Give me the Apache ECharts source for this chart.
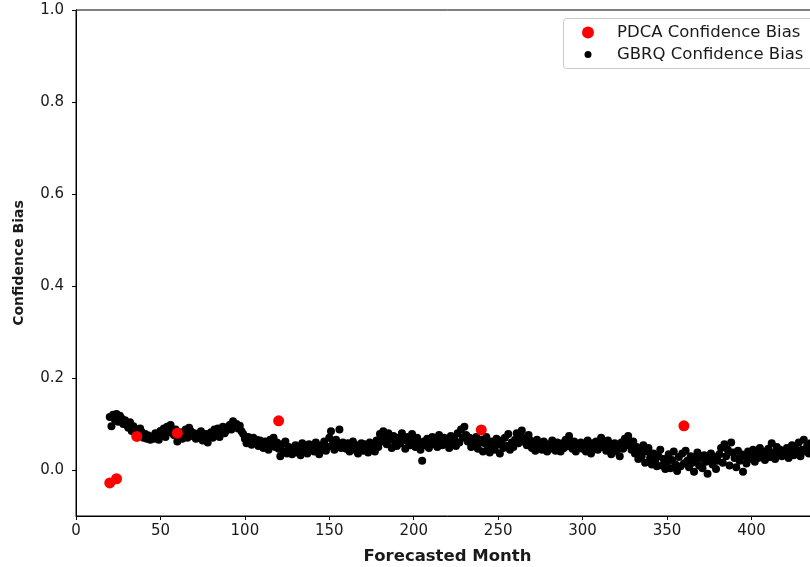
<!DOCTYPE html>
<html>
<head>
<meta charset="utf-8">
<script src="https://cdn.jsdelivr.net/npm/echarts@6/dist/echarts.min.js"></script>
<style>
  html, body { margin: 0; padding: 0; background: #fff; overflow: hidden; }
  #chart { width: 830px; height: 567px; }
</style>
</head>
<body>
<div id="chart"></div>
<script>
// PDCA confidence bias, sampled at a few forecast horizons
const pdcaMonths = [20, 24, 36, 60, 120, 240, 360];
const pdcaBias = [-0.028, -0.019, 0.073, 0.080, 0.107, 0.087, 0.096];

// GBRQ confidence bias, one value per forecasted month starting at month 20
const gbrqStartMonth = 20;
const gbrqBias = [
  0.115,0.095,0.120,0.110,0.122,0.105,0.118,0.112,0.100,0.108,
  0.098,0.092,0.104,0.085,0.095,0.080,0.088,0.078,0.090,0.082,
  0.070,0.078,0.068,0.075,0.066,0.072,0.068,0.080,0.074,0.066,
  0.085,0.078,0.090,0.072,0.094,0.082,0.098,0.086,0.076,0.088,
  0.062,0.072,0.082,0.068,0.078,0.088,0.070,0.092,0.084,0.074,
  0.080,0.068,0.076,0.070,0.084,0.064,0.072,0.078,0.060,0.074,
  0.082,0.070,0.088,0.076,0.090,0.072,0.084,0.094,0.080,0.086,
  0.092,0.098,0.088,0.106,0.094,0.100,0.090,0.096,0.084,0.078,
  0.068,0.058,0.072,0.062,0.055,0.070,0.060,0.066,0.052,0.064,
  0.058,0.048,0.062,0.052,0.044,0.066,0.056,0.070,0.050,0.060,
  0.046,0.030,0.056,0.040,0.062,0.036,0.050,0.044,0.034,0.048,
  0.054,0.038,0.046,0.032,0.058,0.042,0.050,0.036,0.056,0.044,
  0.052,0.040,0.060,0.046,0.034,0.054,0.048,0.062,0.042,0.050,
  0.070,0.084,0.058,0.044,0.066,0.052,0.088,0.048,0.060,0.054,
  0.046,0.058,0.040,0.052,0.062,0.044,0.054,0.036,0.050,0.058,
  0.042,0.056,0.048,0.038,0.060,0.046,0.052,0.040,0.064,0.050,
  0.078,0.062,0.084,0.070,0.056,0.080,0.066,0.048,0.074,0.060,
  0.052,0.070,0.058,0.080,0.064,0.046,0.072,0.060,0.054,0.078,
  0.066,0.050,0.070,0.058,0.044,0.020,0.062,0.054,0.068,0.048,
  0.060,0.072,0.056,0.066,0.050,0.076,0.062,0.054,0.070,0.058,
  0.064,0.048,0.074,0.056,0.068,0.052,0.080,0.060,0.088,0.070,
  0.094,0.076,0.062,0.070,0.050,0.064,0.056,0.072,0.046,0.060,
  0.066,0.040,0.058,0.072,0.050,0.038,0.062,0.054,0.044,0.068,
  0.056,0.036,0.064,0.048,0.070,0.052,0.078,0.044,0.060,0.050,
  0.066,0.080,0.058,0.072,0.086,0.062,0.070,0.054,0.076,0.064,
  0.048,0.060,0.042,0.066,0.052,0.058,0.044,0.062,0.050,0.040,
  0.056,0.046,0.064,0.050,0.042,0.060,0.054,0.040,0.058,0.048,
  0.066,0.052,0.074,0.058,0.046,0.062,0.040,0.054,0.050,0.060,
  0.046,0.056,0.040,0.064,0.052,0.036,0.058,0.048,0.062,0.044,
  0.056,0.070,0.050,0.060,0.042,0.064,0.054,0.034,0.048,0.058,
  0.040,0.052,0.030,0.060,0.046,0.068,0.054,0.074,0.058,0.044,
  0.062,0.036,0.050,0.024,0.044,0.030,0.054,0.016,0.040,0.048,
  0.026,0.012,0.036,0.020,0.008,0.030,0.044,0.010,0.024,0.002,
  0.018,0.034,0.004,0.022,0.040,0.012,-0.002,0.028,0.008,0.036,
  0.014,0.042,0.020,0.006,0.030,0.016,-0.004,0.024,0.038,0.010,
  0.026,0.004,0.032,0.018,-0.008,0.022,0.036,0.012,0.028,0.002,
  0.020,0.034,0.048,0.016,0.056,0.030,0.044,0.010,0.060,0.038,
  0.026,0.006,0.042,0.020,0.034,-0.004,0.030,0.014,0.040,0.024,
  0.032,0.044,0.018,0.036,0.026,0.048,0.030,0.040,0.022,0.034,
  0.046,0.028,0.058,0.038,0.024,0.050,0.034,0.044,0.030,0.040,
  0.036,0.048,0.026,0.042,0.054,0.032,0.046,0.038,0.060,0.030,
  0.044,0.066,0.040,0.052,0.036,0.058,0.046,0.062,0.042,0.054
];

// Axis ticks
const xTicks = [0, 50, 100, 150, 200, 250, 300, 350, 400];
const yTicks = [0.0, 0.2, 0.4, 0.6, 0.8, 1.0];

const pdcaData = pdcaMonths.map((m, i) => [m, pdcaBias[i]]);
const gbrqData = gbrqBias.map((v, i) => [gbrqStartMonth + i, v]);

const FONT = 'DejaVu Sans';
const TEXT = '#1a1a1a';

const chart = echarts.init(document.getElementById('chart'), null, { renderer: 'canvas' });

chart.setOption({
  animation: false,
  backgroundColor: '#fff',
  textStyle: { fontFamily: FONT },
  grid: {
    left: 76, top: 10, right: 11, bottom: 51,
    outerBoundsMode: 'none',
    containLabel: false,
    show: true, borderColor: '#000', borderWidth: 1, backgroundColor: 'transparent'
  },
  xAxis: {
    type: 'value',
    min: 0, max: 440,
    name: 'Forecasted Month',
    nameLocation: 'middle',
    nameGap: 32,
    nameTextStyle: { fontFamily: FONT, fontWeight: 'bold', fontSize: 16.5, color: TEXT },
    axisLine: { show: true, onZero: false, lineStyle: { color: '#000', width: 1 } },
    axisTick: { show: true, inside: false, length: 4, customValues: xTicks, lineStyle: { color: '#000' } },
    axisLabel: { customValues: xTicks, margin: 8, fontSize: 15, color: TEXT, fontFamily: FONT },
    splitLine: { show: false }
  },
  yAxis: {
    type: 'value',
    min: -0.1, max: 1.0,
    name: 'Confidence Bias',
    nameLocation: 'middle',
    nameGap: 50,
    nameRotate: 90,
    nameTextStyle: { fontFamily: FONT, fontWeight: 'bold', fontSize: 14, color: TEXT },
    axisLine: { show: true, onZero: false, lineStyle: { color: '#000', width: 1 } },
    axisTick: { show: true, inside: false, length: 4, customValues: yTicks, lineStyle: { color: '#000' } },
    axisLabel: {
      customValues: yTicks, margin: 12, fontSize: 15, color: TEXT, fontFamily: FONT,
      formatter: v => v.toFixed(1)
    },
    splitLine: { show: false }
  },
  legend: [
    {
      data: ['PDCA Confidence Bias'],
      left: 582, top: 24,
      itemWidth: 12, itemHeight: 12,
      icon: 'circle',
      padding: 0,
      align: 'left',
      textStyle: { fontSize: 16.5, color: TEXT, fontFamily: FONT, padding: [0, 0, 0, 18] }
    },
    {
      data: ['GBRQ Confidence Bias'],
      left: 584.5, top: 46,
      itemWidth: 7, itemHeight: 7,
      icon: 'circle',
      padding: 0,
      align: 'left',
      textStyle: { fontSize: 16.5, color: TEXT, fontFamily: FONT, padding: [0, 0, 0, 20.5] }
    }
  ],
  graphic: [{
    type: 'rect',
    z: 0,
    shape: { x: 563.5, y: 18.5, width: 270, height: 50, r: 3 },
    style: { fill: 'rgba(255,255,255,0.8)', stroke: '#cccccc', lineWidth: 1 }
  }],
  series: [
    {
      name: 'GBRQ Confidence Bias',
      type: 'scatter',
      data: gbrqData,
      symbol: 'circle',
      symbolSize: 8,
      itemStyle: { color: '#000', opacity: 1 },
      z: 2
    },
    {
      name: 'PDCA Confidence Bias',
      type: 'scatter',
      data: pdcaData,
      symbol: 'circle',
      symbolSize: 11,
      itemStyle: { color: '#ff0000', opacity: 1 },
      z: 3
    }
  ]
});
</script>
</body>
</html>
